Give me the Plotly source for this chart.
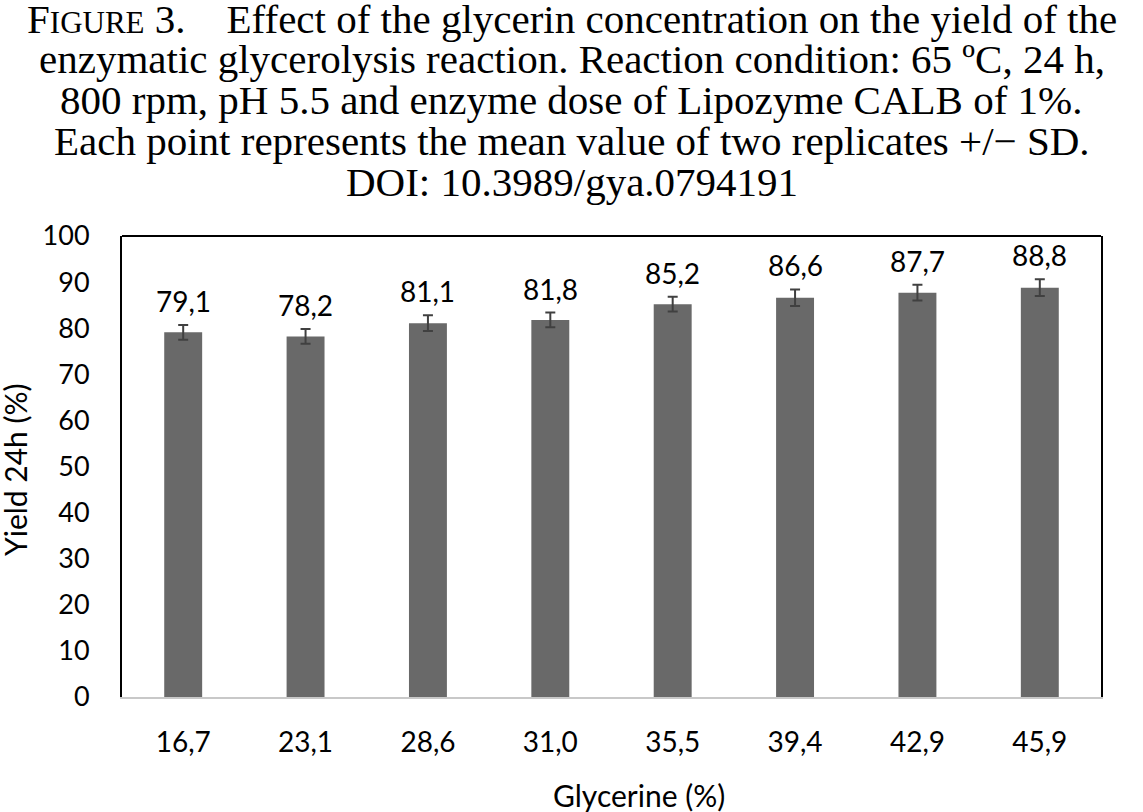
import plotly.graph_objects as go

categories = ["16,7", "23,1", "28,6", "31,0", "35,5", "39,4", "42,9", "45,9"]
yield_24h = [79.1, 78.2, 81.1, 81.8, 85.2, 86.6, 87.7, 88.8]
sd = [1.6, 1.6, 1.7, 1.6, 1.6, 1.8, 1.7, 1.8]
labels = ["79,1", "78,2", "81,1", "81,8", "85,2", "86,6", "87,7", "88,8"]
y_ticks = list(range(0, 101, 10))

title_lines = [
    "F<span style='font-size:31px'>IGURE</span> 3.\u00a0\u00a0\u00a0\u00a0Effect of the glycerin concentration on the yield of the",
    "enzymatic glycerolysis reaction. Reaction condition: 65 ºC, 24 h,",
    "800 rpm, pH 5.5 and enzyme dose of Lipozyme CALB of 1%.",
    "Each point represents the mean value of two replicates +/− SD.",
    "DOI: 10.3989/gya.0794191",
]

W, H = 1143, 812
L, R, T, B = 122, 1101, 236, 697
plot_h = B - T
plot_w = R - L

def py(pix):
    return (B - pix) / plot_h

def px(pix):
    return (pix - L) / plot_w

fig = go.Figure()
fig.add_trace(go.Bar(
    x=categories, y=yield_24h,
    marker=dict(color="#696969", line=dict(width=0)),
    error_y=dict(type="data", array=sd, visible=True, color="#404040", thickness=2, width=5),
    showlegend=False, hoverinfo="skip",
))

ytick_font = dict(family="Lato, sans-serif", size=27, color="#000000")
xtick_font = dict(family="Lato, sans-serif", size=28, color="#000000")

annotations = []
for c, v, s, t in zip(categories, yield_24h, sd, labels):
    annotations.append(dict(x=c, y=v + s, xref="x", yref="y", text=t, showarrow=False,
                            yanchor="middle", yshift=24, font=xtick_font))

title_font = dict(family="Liberation Serif, Times New Roman, serif", size=41, color="#000000")
line_centers = [19, 59, 100, 141, 182]
for txt, cy in zip(title_lines, line_centers):
    annotations.append(dict(x=px(W / 2), y=py(cy), xref="paper", yref="paper", text=txt,
                            showarrow=False, xanchor="center", yanchor="middle", font=title_font))

axis_title_font = dict(family="Lato, sans-serif", size=30, color="#000000")
annotations.append(dict(x=px(639), y=py(795), xref="paper", yref="paper", text="Glycerine (%)",
                        showarrow=False, xanchor="center", yanchor="middle", font=axis_title_font))
annotations.append(dict(x=px(15), y=py(470), xref="paper", yref="paper", text="Yield 24h (%)",
                        showarrow=False, xanchor="center", yanchor="middle", textangle=-90,
                        font=axis_title_font))

fig.update_layout(
    width=W, height=H,
    margin=dict(l=L, r=W - R, t=T, b=H - B, pad=0),
    paper_bgcolor="white", plot_bgcolor="white",
    bargap=0.69,
    annotations=annotations,
    xaxis=dict(showline=True, linecolor="#c8c8c8", linewidth=2, mirror=False,
               showgrid=False, ticks="", tickfont=xtick_font, ticklabelstandoff=19),
    yaxis=dict(range=[0, 100], tickvals=y_ticks, showgrid=False, zeroline=False,
               showline=True, linecolor="#000000", linewidth=2, mirror=True,
               ticks="", tickfont=ytick_font, ticklabelstandoff=25),
)
fig.add_shape(type="line", xref="paper", yref="paper", x0=0, x1=1, y0=1, y1=1,
              line=dict(color="#000000", width=2))

fig.write_html("out.html", config={"displayModeBar": False},
               post_script="document.body.style.margin='0';document.body.style.overflow='hidden';")
